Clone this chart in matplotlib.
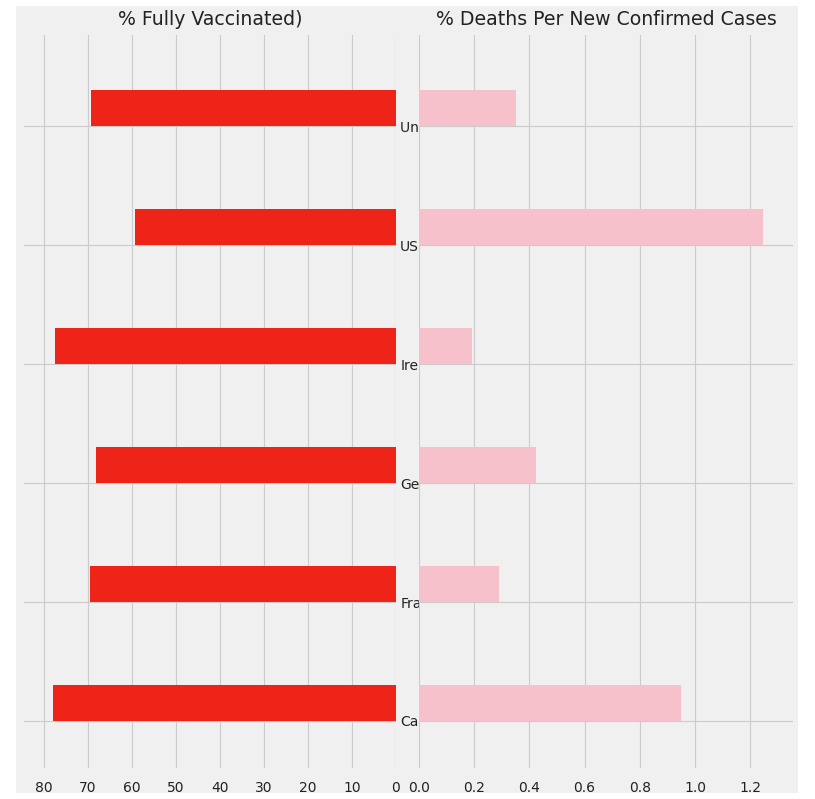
import matplotlib
matplotlib.use("Agg")
import matplotlib.pyplot as plt
from matplotlib.patches import Rectangle

countries = ["Canada", "France", "Germany", "Ireland", "US", "United Kingdom"]
fully_vaccinated = [78.0, 69.5, 68.2, 77.5, 59.3, 69.3]
deaths_per_case = [0.949, 0.29, 0.424, 0.192, 1.246, 0.351]
left_ticks = [80, 70, 60, 50, 40, 30, 20, 10, 0]
right_ticks = [0.0, 0.2, 0.4, 0.6, 0.8, 1.0, 1.2]

BG = "#f0f0f0"
GRID = "#cbcbcb"

W, H = 815, 799
fig = plt.figure(figsize=(W / 100, H / 100), dpi=100, facecolor="white")
fig.patches.append(Rectangle((16 / W, 1 - 793 / H), (798 - 16) / W, (793 - 6) / H,
                             transform=fig.transFigure, facecolor=BG, edgecolor="none", zorder=-10))

bottom = 1 - 768 / H
height = (768 - 35) / H
ax1 = fig.add_axes([24 / W, bottom, (396 - 24) / W, height])
ax2 = fig.add_axes([419 / W, bottom, (793 - 419) / W, height])

ypos = list(range(len(countries)))

for ax in (ax1, ax2):
    ax.set_facecolor(BG)
    for s in ax.spines.values():
        s.set_visible(False)
    ax.grid(True, color=GRID, linewidth=0.8)
    ax.set_axisbelow(True)
    ax.tick_params(length=0, labelsize=10, colors="#222222")
    ax.tick_params(axis="x", pad=9)
    ax.set_ylim(-0.395, 5.765)
    ax.set_yticks(ypos)

ax1.barh(ypos, fully_vaccinated, height=0.3, align="edge", color="#ee2419")
ax1.set_xlim(84.5, 0)
ax1.set_xticks(left_ticks)
ax1.set_xticklabels([str(t) for t in left_ticks])
ax1.yaxis.tick_right()
ax1.set_yticklabels(countries)
ax1.tick_params(axis="y", pad=3)
ax1.set_title("% Fully Vaccinated)", fontsize=13.6, pad=7, color="#222222")

ax2.barh(ypos, deaths_per_case, height=0.3, align="edge", color="#f6c1cb")
ax2.set_xlim(0, 1.355)
ax2.set_xticks(right_ticks)
ax2.set_xticklabels([f"{t:.1f}" for t in right_ticks])
ax2.set_yticklabels([])
ax2.set_title("% Deaths Per New Confirmed Cases", fontsize=13.6, pad=7, color="#222222")

fig.savefig("out.png", dpi=100, facecolor=fig.get_facecolor())
